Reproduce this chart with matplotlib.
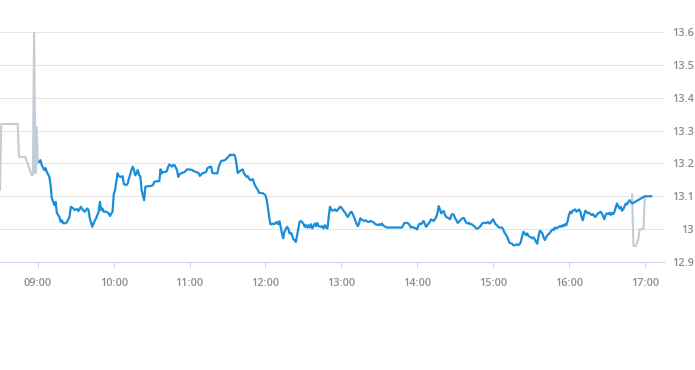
import matplotlib
matplotlib.use("Agg")
import matplotlib.pyplot as plt
import matplotlib.dates as mdates
import matplotlib.ticker as mtick
import pandas as pd

DAY = "2021-01-04"

# pre-market auction (grey)
pre_times = ["08:30", "08:31", "08:44", "08:45", "08:50", "08:55", "08:56",
             "08:57", "08:58", "08:59", "09:00"]
pre_prices = [13.12, 13.32, 13.32, 13.22, 13.22, 13.165, 13.165,
              13.60, 13.17, 13.31, 13.2]

# continuous trading (blue), minutes after 09:00
session_minutes = [
    1, 2, 3, 5, 6, 7, 9, 10, 11, 12,
    13, 14, 15, 17, 18, 19, 20, 22, 23, 25,
    26, 28, 29, 31, 32, 34, 35, 37, 39, 40,
    41, 43, 44, 46, 48, 49, 50, 51, 52, 54,
    56, 57, 59, 60, 61, 62, 63, 64, 66, 67,
    68, 70, 71, 72, 74, 75, 76, 77, 78, 79,
    80, 81, 82, 83, 84, 85, 87, 89, 91, 92,
    94, 96, 97, 98, 99, 101, 102, 103, 104, 106,
    107, 108, 110, 111, 112, 114, 116, 118, 119, 122,
    123, 125, 127, 128, 130, 131, 133, 134, 136, 137,
    138, 140, 142, 143, 145, 146, 148, 150, 151, 152,
    153, 155, 156, 157, 158, 159, 161, 162, 163, 165,
    166, 167, 168, 170, 171, 172, 174, 175, 177, 178,
    180, 181, 182, 183, 184, 185, 186, 187, 189, 190,
    191, 192, 193, 194, 195, 197, 198, 199, 200, 201,
    202, 203, 204, 205, 206, 207, 208, 210, 211, 212,
    213, 214, 215, 216, 217, 219, 220, 221, 222, 224,
    225, 226, 227, 228, 229, 230, 231, 232, 233, 235,
    236, 237, 238, 239, 240, 241, 243, 244, 245, 246,
    247, 248, 249, 250, 251, 252, 253, 254, 255, 257,
    258, 259, 261, 262, 263, 265, 266, 267, 269, 270,
    271, 272, 273, 274, 276, 277, 282, 288, 289, 290,
    292, 293, 294, 295, 296, 297, 299, 300, 301, 302,
    303, 304, 305, 306, 307, 308, 310, 311, 312, 313,
    314, 315, 316, 317, 318, 319, 320, 321, 322, 323,
    324, 325, 326, 327, 328, 329, 330, 331, 332, 333,
    334, 336, 337, 338, 339, 340, 341, 342, 343, 344,
    345, 346, 347, 348, 350, 351, 352, 355, 356, 357,
    358, 359, 360, 361, 362, 363, 364, 365, 367, 368,
    369, 371, 372, 373, 375, 376, 377, 379, 380, 381,
    382, 383, 384, 385, 386, 387, 388, 390, 391, 392,
    393, 394, 395, 396, 397, 398, 399, 400, 401, 402,
    403, 404, 405, 406, 407, 408, 409, 410, 411, 413,
    414, 415, 416, 417, 418, 419, 420, 421, 422, 423,
    424, 425, 426, 427, 428, 429, 430, 431, 432, 433,
    434, 435, 436, 437, 438, 439, 440, 441, 442, 443,
    444, 445, 446, 447, 448, 449, 450, 451, 452, 453,
    454, 455, 456, 457, 458, 459, 460, 461, 462, 463,
    464, 465, 466, 467, 468, 469, 470, 480, 485,
]
session_prices = [
    13.205, 13.21, 13.195, 13.18, 13.186, 13.174, 13.16, 13.134, 13.094, 13.083,
    13.073, 13.083, 13.049, 13.037, 13.022, 13.027, 13.018, 13.018, 13.022, 13.037,
    13.068, 13.063, 13.058, 13.061, 13.055, 13.068, 13.061, 13.053, 13.063, 13.058,
    13.033, 13.007, 13.018, 13.033, 13.053, 13.083, 13.058, 13.063, 13.053, 13.053,
    13.048, 13.04, 13.053, 13.106, 13.119, 13.144, 13.17, 13.161, 13.159, 13.161,
    13.137, 13.134, 13.139, 13.154, 13.18, 13.19, 13.18, 13.164, 13.17, 13.18,
    13.164, 13.161, 13.119, 13.103, 13.088, 13.129, 13.131, 13.131, 13.134, 13.144,
    13.146, 13.146, 13.182, 13.17, 13.174, 13.174, 13.177, 13.19, 13.197, 13.19,
    13.195, 13.195, 13.18, 13.159, 13.167, 13.171, 13.174, 13.182, 13.182, 13.18,
    13.177, 13.174, 13.171, 13.162, 13.17, 13.171, 13.174, 13.185, 13.19, 13.19,
    13.171, 13.17, 13.17, 13.19, 13.208, 13.208, 13.21, 13.218, 13.222, 13.227,
    13.225, 13.227, 13.222, 13.2, 13.171, 13.174, 13.18, 13.182, 13.17, 13.159,
    13.161, 13.154, 13.149, 13.152, 13.139, 13.131, 13.119, 13.11, 13.11, 13.109,
    13.103, 13.088, 13.063, 13.033, 13.015, 13.015, 13.017, 13.015, 13.022, 13.015,
    13.024, 13.007, 12.987, 12.972, 12.992, 13.007, 13.002, 12.987, 12.989, 12.982,
    12.969, 12.967, 12.961, 12.982, 13.002, 13.022, 13.025, 13.017, 13.007, 13.012,
    13.005, 13.012, 13.005, 13.015, 13.002, 13.017, 13.009, 13.019, 13.009, 13.007,
    13.009, 13.002, 13.012, 13.005, 13.002, 13.037, 13.068, 13.06, 13.056, 13.06,
    13.055, 13.058, 13.063, 13.068, 13.066, 13.06, 13.05, 13.043, 13.037, 13.043,
    13.05, 13.053, 13.046, 13.037, 13.027, 13.017, 13.009, 13.017, 13.033, 13.027,
    13.025, 13.027, 13.022, 13.022, 13.025, 13.022, 13.019, 13.015, 13.012, 13.015,
    13.012, 13.017, 13.012, 13.009, 13.005, 13.005, 13.005, 13.005, 13.012, 13.019,
    13.019, 13.017, 13.012, 13.005, 13.007, 13.005, 13.002, 12.999, 13.012, 13.017,
    13.015, 13.019, 13.025, 13.017, 13.007, 13.012, 13.022, 13.03, 13.027, 13.025,
    13.03, 13.037, 13.048, 13.07, 13.06, 13.048, 13.053, 13.055, 13.043, 13.037,
    13.035, 13.033, 13.03, 13.043, 13.046, 13.043, 13.033, 13.027, 13.019, 13.022,
    13.027, 13.034, 13.033, 13.025, 13.019, 13.017, 13.019, 13.015, 13.015, 13.012,
    13.009, 13.005, 13.001, 13.002, 13.009, 13.015, 13.019, 13.019, 13.022, 13.017,
    13.019, 13.025, 13.03, 13.022, 13.015, 13.012, 13.007, 13.005, 13.005, 12.999,
    12.99, 12.978, 12.968, 12.958, 12.956, 12.951, 12.951, 12.954, 12.951, 12.954,
    12.961, 12.979, 12.992, 12.987, 12.982, 12.987, 12.979, 12.975, 12.972, 12.975,
    12.969, 12.961, 12.956, 12.979, 12.995, 12.992, 12.987, 12.975, 12.967, 12.975,
    12.982, 12.985, 12.989, 12.995, 12.999, 12.997, 13.005, 13.002, 13.005, 13.009,
    13.007, 13.012, 13.009, 13.015, 13.012, 13.025, 13.043, 13.053, 13.048, 13.056,
    13.058, 13.06, 13.053, 13.056, 13.06, 13.053, 13.037, 13.027, 13.043, 13.056,
    13.053, 13.048, 13.05, 13.046, 13.043, 13.046, 13.04, 13.037, 13.043, 13.048,
    13.05, 13.053, 13.048, 13.04, 13.03, 13.043, 13.048, 13.046, 13.05, 13.043,
    13.05, 13.046, 13.053, 13.066, 13.078, 13.07, 13.063, 13.068, 13.056, 13.06,
    13.07, 13.078, 13.075, 13.083, 13.088, 13.083, 13.078, 13.1, 13.1,
]

# closing auction (grey)
post_times = ["16:50", "16:51", "16:53", "16:55", "16:56", "16:59", "17:00"]
post_prices = [13.106, 12.949, 12.949, 12.972, 13.0, 13.0, 13.098]

y_ticks = [12.9, 13.0, 13.1, 13.2, 13.3, 13.4, 13.5, 13.6]

BLUE = "#1b8edb"
GREY = "#c3cdd5"
LABEL = "#858e97"

plt.rcParams["font.family"] = ["Open Sans", "DejaVu Sans"]


def stamps(times):
    return pd.to_datetime([f"{DAY} {t}" for t in times])


pre_x = stamps(pre_times)
post_x = stamps(post_times)
session_x = pd.Timestamp(f"{DAY} 09:00") + pd.to_timedelta(session_minutes, unit="min")

fig = plt.figure(figsize=(6.95, 3.70), dpi=100)
ax = fig.add_axes([0, 1 - 262 / 370, 665 / 695, 230 / 370])

ax.plot(pre_x, pre_prices, color=GREY, lw=1.5, solid_joinstyle="round")
ax.plot(post_x, post_prices, color=GREY, lw=1.5, solid_joinstyle="round")
ax.plot(session_x, session_prices, color=BLUE, lw=1.6, solid_joinstyle="round")

ax.set_xlim(pd.Timestamp(f"{DAY} 08:30"), pd.Timestamp(f"{DAY} 17:16"))
ax.set_ylim(12.9, 13.6)
ax.set_yticks(y_ticks)
ax.yaxis.set_major_formatter(mtick.FuncFormatter(lambda v, _: f"{round(v, 1):g}"))
ax.xaxis.set_major_locator(mdates.HourLocator())
ax.xaxis.set_major_formatter(mdates.DateFormatter("%H:%M"))

ax.grid(axis="y", color="#e6e6e6", lw=0.75)
ax.set_axisbelow(True)
for side in ["left", "right", "top"]:
    ax.spines[side].set_visible(False)
ax.spines["bottom"].set_color("#ccd6eb")
ax.spines["bottom"].set_linewidth(0.75)

ax.yaxis.tick_right()
ax.tick_params(axis="y", length=0, pad=21, labelsize=7.8, labelcolor=LABEL)
ax.tick_params(axis="x", length=4.5, width=0.75, color="#ccd6eb", pad=7,
               labelsize=7.8, labelcolor=LABEL)
for lbl in ax.get_yticklabels() + ax.get_xticklabels():
    lbl.set_fontweight("semibold")
for lbl in ax.get_yticklabels():
    lbl.set_horizontalalignment("right")

fig.savefig("out.png", dpi=100)
